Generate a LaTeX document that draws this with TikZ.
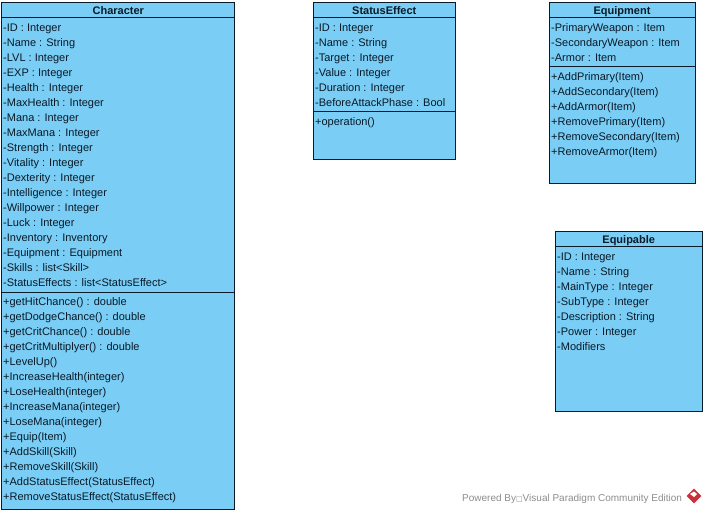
\documentclass[tikz,border=0pt]{standalone}
\usepackage{fontspec}
\setmainfont{Liberation Sans}
\newfontfamily\symfont{DejaVu Sans}
\usepackage{xcolor}
\usetikzlibrary{shapes.geometric, positioning}
\definecolor{classblue}{HTML}{7ACDF4}
\definecolor{classline}{HTML}{0A1A28}
\definecolor{markgray}{HTML}{8C8C8C}
\definecolor{markred}{HTML}{C8303A}

\begin{document}
\begin{tikzpicture}[
    x=1pt, y=-1pt,
    node distance=0pt,
    every node/.style={font=\fontsize{11pt}{13pt}\selectfont, text=classline},
    part/.style={rectangle, draw=classline, fill=classblue, line width=1pt, inner sep=0pt, outer sep=0pt},
    title/.style={part, font=\fontsize{11pt}{13pt}\selectfont\bfseries, minimum height=15pt, text height=10pt, text depth=1pt},
    member/.style={anchor=base west, inner sep=0pt},
    watermark/.style={anchor=base west, inner sep=0pt, text=markgray, font=\fontsize{10pt}{12pt}\selectfont},
]
\useasboundingbox (0,0) rectangle (706,513);

% Character
\node[title, minimum width=233pt] (charhead) at (118.3,9.7) {Character};
\node[part, minimum width=233pt, minimum height=275pt, below=of charhead] (charattrs) {};
\node[part, minimum width=233pt, minimum height=217.5pt, below=of charattrs] (charops) {};
\foreach \row [count=\i] in {-ID : Integer, -Name : String, -LVL : Integer, -EXP : Integer,
    -Health : Integer, -MaxHealth : Integer, -Mana : Integer, -MaxMana : Integer,
    -Strength : Integer, -Vitality : Integer, -Dexterity : Integer, -Intelligence : Integer,
    -Willpower : Integer, -Luck : Integer, -Inventory : Inventory, -Equipment : Equipment,
    -Skills : list<Skill>, -StatusEffects : list<StatusEffect>}
    \node[member] (charattr\i) at (3,{16.5+15*\i}) {\row};
\foreach \row [count=\i] in {+getHitChance() : double, +getDodgeChance() : double,
    +getCritChance() : double, +getCritMultiplyer() : double, +LevelUp(),
    +IncreaseHealth(integer), +LoseHealth(integer), +IncreaseMana(integer),
    +LoseMana(integer), +Equip(Item), +AddSkill(Skill), +RemoveSkill(Skill),
    +AddStatusEffect(StatusEffect), +RemoveStatusEffect(StatusEffect)}
    \node[member] (charop\i) at (3,{290.5+15*\i}) {\row};

% StatusEffect
\node[title, minimum width=142pt] (statushead) at (384.3,9.7) {StatusEffect};
\node[part, minimum width=142pt, minimum height=94.5pt, below=of statushead] (statusattrs) {};
\node[part, minimum width=142pt, minimum height=47.5pt, below=of statusattrs] (statusops) {};
\foreach \row [count=\i] in {-ID : Integer, -Name : String, -Target : Integer, -Value : Integer,
    -Duration : Integer, -BeforeAttackPhase : Bool}
    \node[member] (statusattr\i) at (315,{16.5+15*\i}) {\row};
\node[member] (statusop1) at (315,125.5) {+operation()};

% Equipment
\node[title, minimum width=146pt] (equiphead) at (622,9.7) {Equipment};
\node[part, minimum width=146pt, minimum height=49pt, below=of equiphead] (equipattrs) {};
\node[part, minimum width=146pt, minimum height=117pt, below=of equipattrs] (equipops) {};
\foreach \row [count=\i] in {-PrimaryWeapon : Item, -SecondaryWeapon : Item, -Armor : Item}
    \node[member] (equipattr\i) at (551,{16.5+15*\i}) {\row};
\foreach \row [count=\i] in {+AddPrimary(Item), +AddSecondary(Item), +AddArmor(Item),
    +RemovePrimary(Item), +RemoveSecondary(Item), +RemoveArmor(Item)}
    \node[member] (equipop\i) at (551,{65.5+15*\i}) {\row};

% Equipable
\node[title, minimum width=147pt] (itemhead) at (628.7,239.3) {Equipable};
\node[part, minimum width=147pt, minimum height=165pt, below=of itemhead] (itemattrs) {};
\foreach \row [count=\i] in {-ID : Integer, -Name : String, -MainType : Integer, -SubType : Integer,
    -Description : String, -Power : Integer, -Modifiers}
    \node[member] (itemattr\i) at (557,{245.5+15*\i}) {\row};

% Watermark
\node[watermark] (powered) at (462,501) {Powered By{\symfont\fontsize{7pt}{8pt}\selectfont □}Visual Paradigm Community Edition};
\node[diamond, fill=markred, inner sep=0pt, minimum size=15pt] (logo) at (694,496) {};
\fill[white] (690,494) -- (694,491.5) -- (697,494) -- (694,497) -- cycle;

\end{tikzpicture}
\end{document}
